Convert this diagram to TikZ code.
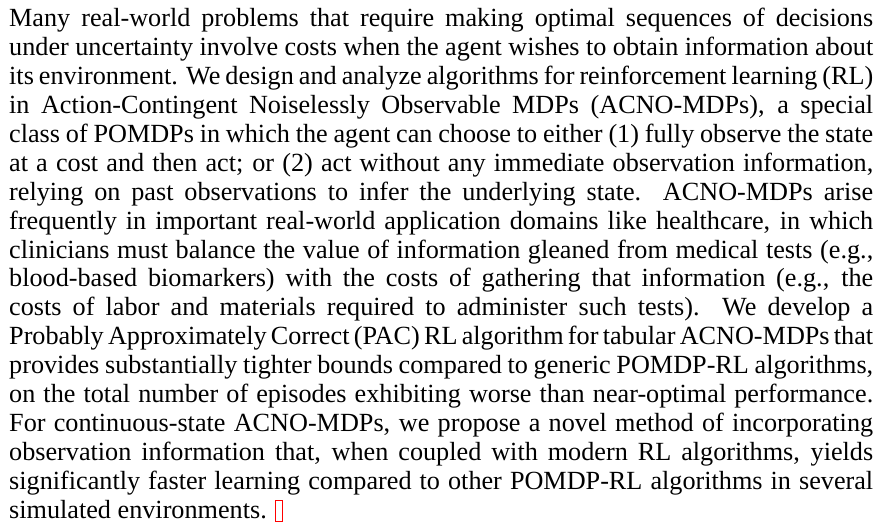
\documentclass[tikz,border=0pt]{standalone}
\usepackage{fontspec}
\setmainfont{Liberation Serif}
% text face of the abstract, with roomy interword glue for full justification
\newcommand{\abstractfont}{\fontsize{26.2}{28.9}\selectfont
  \spaceskip=0.25em plus 0.6em minus 0.15em\relax}
\begin{document}
\begin{tikzpicture}[x=1pt,y=1pt,
  para/.style={anchor=base west, inner sep=0pt, font=\abstractfont},
  linkbox/.style={draw=red, line width=1.1pt, inner sep=0pt, minimum width=7pt, minimum height=21pt}]
\useasboundingbox (0,0) rectangle (880,523);
% justified lines of the abstract, one node per printed line
\newcommand{\jline}[1]{\makebox[864pt][s]{#1}}
\node[para] (l1)  at (9,496.2) {\jline{Many real-world problems that require making optimal sequences of decisions}};
\node[para] (l2)  at (9,467.3) {\jline{under uncertainty involve costs when the agent wishes to obtain information about}};
\node[para] (l3)  at (9,438.4) {\jline{its environment. We design and analyze algorithms for reinforcement learning (RL)}};
\node[para] (l4)  at (9,409.5) {\jline{in Action-Contingent Noiselessly Observable MDPs (ACNO-MDPs), a special}};
\node[para] (l5)  at (9,380.6) {\jline{class of POMDPs in which the agent can choose to either (1) fully observe the state}};
\node[para] (l6)  at (9,351.7) {\jline{at a cost and then act; or (2) act without any immediate observation information,}};
\node[para] (l7)  at (9,322.8) {\jline{relying on past observations to infer the underlying state. ACNO-MDPs arise}};
\node[para] (l8)  at (9,293.9) {\jline{frequently in important real-world application domains like healthcare, in which}};
\node[para] (l9)  at (9,265.0) {\jline{clinicians must balance the value of information gleaned from medical tests (e.g.,}};
\node[para] (l10) at (9,236.1) {\jline{blood-based biomarkers) with the costs of gathering that information (e.g., the}};
\node[para] (l11) at (9,207.2) {\jline{costs of labor and materials required to administer such tests). We develop a}};
\node[para] (l12) at (9,178.3) {\jline{Probably Approximately Correct (PAC) RL algorithm for tabular ACNO-MDPs that}};
\node[para] (l13) at (9,149.4) {\jline{provides substantially tighter bounds compared to generic POMDP-RL algorithms,}};
\node[para] (l14) at (9,120.5) {\jline{on the total number of episodes exhibiting worse than near-optimal performance.}};
\node[para] (l15) at (9,91.6)  {\jline{For continuous-state ACNO-MDPs, we propose a novel method of incorporating}};
\node[para] (l16) at (9,62.7)  {\jline{observation information that, when coupled with modern RL algorithms, yields}};
\node[para] (l17) at (9,33.8)  {\jline{significantly faster learning compared to other POMDP-RL algorithms in several}};
\node[para] (l18) at (9,4.9)   {simulated environments.};
% empty hyperlink frame after the last word
\node[linkbox] (link) at (279,12) {};
\end{tikzpicture}
\end{document}
